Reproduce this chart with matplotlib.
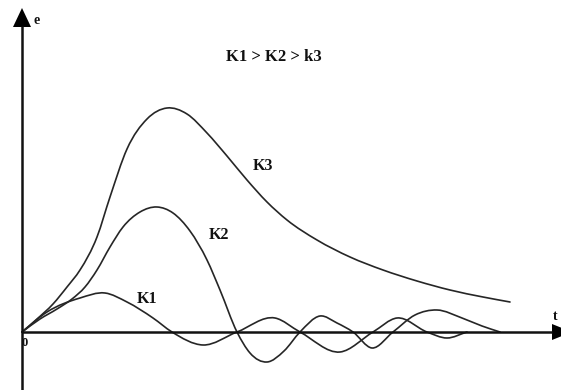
import numpy as np
import matplotlib
matplotlib.use("Agg")
import matplotlib.pyplot as plt
from matplotlib.path import Path
from matplotlib.patches import PathPatch, Polygon

# Error response e(t) for three gains (sketch values, arbitrary units)
k3_t = [0, 15, 31, 45, 58, 75, 88, 105, 125, 145, 165, 185, 205, 225, 245, 265, 295, 328, 361, 395, 428, 461, 488]
k3_e = [0, 13, 28, 45, 62, 95, 135, 183, 213, 224, 218, 199, 176, 152, 130, 112, 92, 75, 62, 51, 42, 35, 30]

k2_t = [0, 18, 35, 50, 63, 75, 88, 101, 118, 135, 151, 168, 185, 198, 215, 228, 245, 262, 278, 298, 315, 331, 350, 371, 393, 415, 440, 460, 478]
k2_e = [0, 13, 23, 33, 45, 62, 85, 105, 120, 125, 119, 101, 72, 42, 0, -21, -30, -19, 0, 16, 9, 0, -16, 0, 17, 22, 14, 6, 0]

k1_t = [0, 25, 58, 83, 105, 131, 150, 181, 215, 253, 278, 318, 351, 375, 405, 425, 445]
k1_e = [0, 20, 34, 39, 30, 14, 0, -13, 0, 14, 0, -20, 0, 14, 0, -6, 0]

labels = ["K1", "K2", "K3"]
title_text = "K1 > K2 > k3"


def smooth_path(xs, ys):
    """Smooth curve through the points: cubic Hermite segments as Bezier curves."""
    x = np.asarray(xs, float)
    y = np.asarray(ys, float)
    h = np.diff(x)
    d = np.diff(y) / h
    m = np.empty_like(y)
    m[0] = d[0]
    m[-1] = d[-1]
    m[1:-1] = (h[:-1] * d[1:] + h[1:] * d[:-1]) / (h[:-1] + h[1:])
    verts = [(x[0], y[0])]
    codes = [Path.MOVETO]
    for i in range(len(x) - 1):
        verts.append((x[i] + h[i] / 3, y[i] + m[i] * h[i] / 3))
        verts.append((x[i + 1] - h[i] / 3, y[i + 1] - m[i + 1] * h[i] / 3))
        verts.append((x[i + 1], y[i + 1]))
        codes += [Path.CURVE4] * 3
    return Path(verts, codes)


fig = plt.figure(figsize=(5.61, 3.90), dpi=100)
ax = fig.add_axes([0, 0, 1, 1])
ax.set_xlim(-22, 539)
ax.set_ylim(-58, 332)
ax.axis("off")

curve_color = "#262626"
for xs, ys in [(k3_t, k3_e), (k2_t, k2_e), (k1_t, k1_e)]:
    ax.add_patch(PathPatch(smooth_path(xs, ys), facecolor="none",
                           edgecolor=curve_color, lw=1.2, capstyle="round"))

# Axes with arrow heads
axis_color = "#111111"
ax.plot([0, 0], [-60, 306], color=axis_color, lw=1.8, solid_capstyle="butt")
ax.plot([0, 530], [0, 0], color=axis_color, lw=1.8, solid_capstyle="butt")
ax.add_patch(Polygon([[-9, 305], [9, 305], [0, 324]], closed=True,
                     color="black", lw=0))
ax.add_patch(Polygon([[530, 8], [530, -8], [550, 0]], closed=True,
                     color="black", lw=0))

font = dict(family="Liberation Serif", fontweight="bold", color="#111111")
ax.text(11, 312, "e", fontsize=10, ha="left", va="center", **font)
ax.text(533, 15, "t", fontsize=10, ha="center", va="center", **font)
ax.text(3, -11, "0", fontsize=9, ha="center", va="center", **font)
ax.text(252, 275, title_text, fontsize=12, ha="center", va="center", **font)
ax.text(241, 166, labels[2], fontsize=11.5, ha="center", va="center", **font)
ax.text(197, 97, labels[1], fontsize=11.5, ha="center", va="center", **font)
ax.text(125, 33, labels[0], fontsize=11.5, ha="center", va="center", **font)

fig.savefig("out.png", dpi=100, facecolor="white")
